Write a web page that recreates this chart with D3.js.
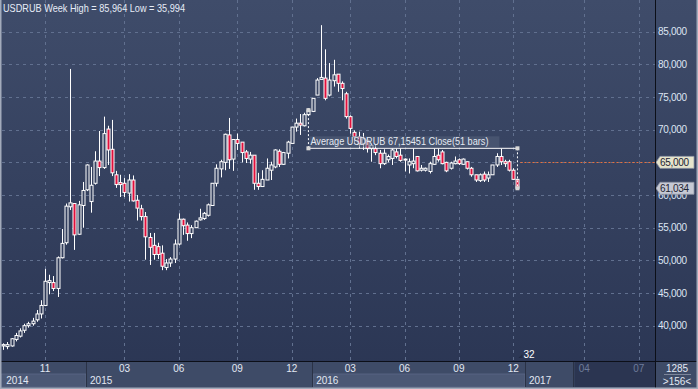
<!DOCTYPE html>
<html><head><meta charset="utf-8">
<script src="https://cdn.jsdelivr.net/npm/d3@7"></script>
<style>html,body{margin:0;padding:0;background:#2b3654;}svg{display:block;font-family:Arial,"Liberation Sans",sans-serif;}</style>
</head><body>
<svg id="c" width="698" height="389"></svg>
<script>
// ---------------- DATA ----------------
const title = "USDRUB Week High = 85,964 Low = 35,994";
const open  = [36.9,36.8,36.9,37.9,38.4,39.3,40.0,40.3,40.9,41.8,43.1,46.6,46.6,45.7,50.4,52.7,58.2,58.7,54.0,58.4,60.8,59.0,61.8,65.2,64.2,70.1,67.0,63.1,61.9,61.8,60.3,62.3,59.2,57.9,56.7,53.5,52.3,52.1,51.1,48.9,49.6,50.2,52.5,56.3,55.4,54.1,55.0,56.2,56.4,56.9,58.4,61.8,64.0,65.0,69.2,65.5,68.5,68.1,66.6,65.5,66.1,61.8,61.3,62.3,63.8,64.3,66.7,64.7,66.4,67.9,70.4,71.0,70.6,72.3,72.8,75.3,77.7,77.9,75.3,77.5,78.5,77.1,75.5,72.0,69.6,68.9,67.9,68.4,67.1,67.1,66.4,64.8,65.4,65.6,66.6,66.1,65.5,64.6,64.8,65.9,63.8,63.8,63.6,64.7,66.1,66.6,65.0,64.1,64.8,65.4,64.7,65.1,64.1,63.1,62.2,63.2,62.6,63.1,64.6,65.9,65.1,65.1,63.8,62.4];
const high  = [37.3,37.5,38.1,38.9,39.6,40.3,40.6,41.2,42.4,43.9,48.7,47.8,47.6,50.6,54.8,58.7,79.3,58.7,59.1,62.0,64.7,64.3,66.7,69.8,72.0,70.6,71.5,63.7,63.1,62.6,63.2,63.0,60.0,58.5,57.4,54.2,54.2,52.7,52.3,50.2,50.5,53.2,57.2,56.4,55.8,55.4,56.1,57.9,57.4,58.7,61.8,64.7,65.4,69.4,71.8,68.5,69.4,68.1,66.9,66.6,66.1,63.4,63.8,65.6,65.1,67.0,67.0,66.6,68.3,70.4,71.7,72.4,72.6,73.3,74.8,77.9,86.0,82.3,80.2,80.7,78.5,77.4,75.8,72.2,69.9,69.7,69.5,68.8,67.9,67.7,66.9,67.0,66.2,67.1,67.1,67.1,65.6,65.6,67.1,65.9,64.6,64.2,65.1,67.1,67.1,66.9,65.1,65.1,65.9,65.6,65.6,65.1,64.3,63.1,63.3,63.6,63.6,64.6,66.4,67.1,65.4,65.4,64.1,62.5];
const low   = [36.3,36.4,36.8,37.6,38.2,38.9,39.7,40.0,40.6,41.1,43.0,44.8,45.3,44.4,50.3,52.4,57.7,51.6,53.9,55.0,60.6,57.3,61.6,62.9,64.0,64.6,62.9,61.1,59.7,59.7,59.0,59.0,56.1,56.1,50.1,49.3,50.1,50.2,48.5,48.5,49.0,49.6,52.3,53.9,53.0,53.4,55.0,56.1,56.2,56.7,58.4,61.3,62.7,63.8,64.0,63.7,66.9,65.0,64.9,64.8,60.8,60.8,61.3,62.3,62.3,64.1,64.3,64.6,65.6,67.9,69.7,69.2,70.5,72.2,72.7,75.3,77.7,74.5,75.1,76.6,75.8,74.5,71.7,69.4,67.9,67.1,66.9,66.5,65.1,66.1,64.1,64.6,65.0,64.6,65.6,65.1,63.6,63.3,64.1,63.6,63.6,63.6,63.3,64.6,65.1,64.7,63.5,63.9,64.7,64.6,64.6,63.9,62.8,62.0,62.0,62.0,62.0,63.1,64.3,64.6,64.3,63.6,62.3,61.0];
const close = [37.1,37.1,38.0,38.5,39.2,40.0,40.3,40.7,41.8,43.1,46.8,46.9,45.7,50.4,52.6,58.3,58.8,53.9,58.5,60.7,64.6,61.5,65.2,64.2,69.4,66.9,63.4,61.6,61.6,60.4,62.3,59.1,58.0,56.7,53.6,52.0,50.9,50.9,49.1,49.6,50.2,52.5,56.3,55.3,54.1,55.0,56.0,56.5,57.2,58.5,61.8,64.1,65.1,69.3,65.4,68.5,67.9,66.5,65.6,66.1,61.8,61.3,62.4,64.1,64.6,66.9,64.7,66.5,68.1,70.4,71.0,70.7,72.3,73.0,74.8,77.6,78.0,74.8,77.6,78.4,77.1,76.3,72.0,70.2,68.9,67.9,68.6,67.1,67.6,66.5,64.8,66.4,65.9,66.9,65.9,65.3,65.4,65.1,65.2,63.7,64.1,64.1,64.8,65.9,65.4,64.8,63.7,64.9,65.2,64.8,65.5,64.1,63.1,62.3,63.1,62.3,63.1,64.6,65.9,65.1,64.8,63.8,62.4,61.034];
const yTicks = [40000,45000,50000,55000,60000,65000,70000,75000,80000,85000];
const monthLabels = ["11","03","06","09","12","03","06","09","12","04","07"];
const monthBars   = [10,29,42,56,69,83,96,109,122,139,152];
const yearLabels  = ["2014","2015","2016","2017"];
const yearStartBars = [-0.7,19.8,73.9,124.8];
const yearEndBars   = [19.8,73.9,124.8,136.4];
const futureBars = 32;
const avgFrom = 73, avgBars = 51;
const avgLabel = "Average USDRUB 67,15451 Close(51 bars)";
const avgValue = 67151.5;
const alertLevel = 65000;
const barCountLabel = "1285", visibleLabel = ">156<";

// --------------- CHART ----------------
const W = 698, H = 389;
const plotL = 2, plotR = 655, plotT = 0, plotB = 361;
const svg = d3.select("#c");
const defs = svg.append("defs");
const g1 = defs.append("linearGradient").attr("id","bg").attr("gradientUnits","userSpaceOnUse")
  .attr("x1",0).attr("y1",0).attr("x2",0).attr("y2",389);
g1.append("stop").attr("offset","0%").attr("stop-color","#3f4c6a");
g1.append("stop").attr("offset","100%").attr("stop-color","#2a3553");

svg.append("rect").attr("width",W).attr("height",H).attr("fill","url(#bg)");

const N = close.length;
const x = d3.scaleLinear().domain([-0.3, N - 1 + futureBars + 0.9]).range([plotL, plotR]);
const y = d3.scaleLinear().domain([40000, 85000]).range([325.7, 31.7]);
const v = d => d * 1000;

// grid
const grid = svg.append("g").attr("stroke","#61708f").attr("stroke-dasharray","3,4").attr("stroke-width",1);
grid.selectAll("line.h").data(yTicks).join("line")
  .attr("x1",plotL).attr("x2",plotR).attr("y1",d=>Math.round(y(d))+0.5).attr("y2",d=>Math.round(y(d))+0.5);
grid.selectAll("line.v").data(monthBars).join("line")
  .attr("x1",d=>Math.round(x(d))+0.5).attr("x2",d=>Math.round(x(d))+0.5).attr("y1",plotT).attr("y2",plotB);

// title
svg.append("text").attr("x",3).attr("y",12).attr("fill","#e6ecf7").attr("font-size","10.5px")
  .attr("textLength",182).attr("lengthAdjust","spacingAndGlyphs").text(title);

// candles
const bw = 3;
const cg = svg.append("g");
const idx = d3.range(N);
cg.selectAll("line.w").data(idx).join("line")
  .attr("x1",i=>Math.round(x(i))+0.5).attr("x2",i=>Math.round(x(i))+0.5)
  .attr("y1",i=>y(v(high[i]))).attr("y2",i=>y(v(low[i])))
  .attr("stroke","#ffffff").attr("stroke-width",1);
cg.selectAll("rect.b").data(idx).join("rect")
  .attr("x",i=>Math.round(x(i))+0.5-bw/2)
  .attr("y",i=>y(v(Math.max(open[i],close[i]))))
  .attr("width",bw)
  .attr("height",i=>Math.max(1,Math.abs(y(v(open[i]))-y(v(close[i])))))
  .attr("fill",i=>close[i] < open[i] ? "#e0103c" : "url(#bg)")
  .attr("stroke","#ffffff").attr("stroke-width",1);

// alert line
svg.append("line").attr("x1",x(N-1)+3).attr("x2",plotR).attr("y1",Math.round(y(alertLevel))+0.5).attr("y2",Math.round(y(alertLevel))+0.5)
  .attr("stroke","#e8703c").attr("stroke-dasharray","2,2");

// average annotation
const ax1 = x(avgFrom), ax2 = x(avgFrom + avgBars - 1);
const ay = y(avgValue);
const ann = svg.append("g");
ann.append("rect").attr("x",ax1+1).attr("y",ay-12).attr("width",190).attr("height",11).attr("fill","#56627c").attr("opacity",0.55);
ann.append("text").attr("x",ax1+2).attr("y",ay-3).attr("fill","#e4e9f2").attr("font-size","10px")
  .attr("textLength",178).attr("lengthAdjust","spacingAndGlyphs").text(avgLabel);
ann.append("line").attr("x1",ax1).attr("x2",ax2).attr("y1",ay).attr("y2",ay).attr("stroke","#ffffff").attr("stroke-width",1);
ann.append("line").attr("x1",ax1).attr("x2",ax1).attr("y1",y(v(close[avgFrom]))).attr("y2",ay).attr("stroke","#ffffff").attr("stroke-dasharray","2,2");
ann.append("line").attr("x1",ax2).attr("x2",ax2).attr("y1",ay).attr("y2",y(v(close[N-1]))).attr("stroke","#ffffff").attr("stroke-dasharray","2,2");
[[ax1,y(v(close[avgFrom]))],[ax1,ay],[ax2,ay],[ax2,y(v(close[N-1]))]].forEach(p=>{
  ann.append("rect").attr("x",p[0]-2).attr("y",p[1]-2).attr("width",4).attr("height",4).attr("fill","#d8d8d8");
});

// "32" future bars label
svg.append("path").attr("d",`M${x(N-1)+1},${plotB-3} l4,-4 l0,4 z`).attr("fill","#222c44");
svg.append("text").attr("x",x(N-1)+6).attr("y",plotB-3).attr("fill","#ffffff").attr("font-size","10px").text(futureBars);

// right axis labels (the 65,000 level is shown by its price tag)
svg.append("g").selectAll("text").data(yTicks.filter(d => d !== alertLevel)).join("text")
  .attr("x",658).attr("y",d=>y(d)+3.5).attr("fill","#dde5f3").attr("font-size","10px").attr("letter-spacing","-0.3px")
  .text(d=>d3.format(",")(d));

function priceTag(val, fill, label){
  const yy = y(val);
  const gg = svg.append("g");
  gg.append("path").attr("d",`M656,${yy} L660,${yy-6} L694,${yy-6} L694,${yy+6} L660,${yy+6} Z`)
    .attr("fill",fill).attr("stroke","#8d93a3").attr("stroke-width",0.8);
  gg.append("text").attr("x",660).attr("y",yy+3.5).attr("fill","#1c2333").attr("font-size","10px").attr("letter-spacing","-0.3px").text(label);
}
priceTag(alertLevel,"#e6e4cc",d3.format(",")(alertLevel));
priceTag(close[N-1]*1000,"#c6c9d4",d3.format(",")(Math.round(close[N-1]*1000)));

// bottom axis
const ax = svg.append("g");
ax.append("rect").attr("x",0).attr("y",362).attr("width",W).attr("height",27).attr("fill","#3e4b67");
ax.selectAll("rect.yr").data(yearLabels).join("rect")
  .attr("x",(d,i)=>x(yearStartBars[i])+1).attr("y",(d,i)=> i===3 ? 362 : 374)
  .attr("width",(d,i)=>x(yearEndBars[i])-x(yearStartBars[i])-1)
  .attr("height",(d,i)=> i===3 ? 25 : 13)
  .attr("fill",(d,i)=> i%2===0 ? "#4b5875" : "#3e4b67")
  .attr("stroke",(d,i)=> i%2===0 ? "#5b6887" : "none").attr("stroke-width",0.8);
ax.append("rect").attr("x",x(yearEndBars[3])+1).attr("y",362).attr("width",plotR-x(yearEndBars[3])-1).attr("height",25).attr("fill","#2b3551");
ax.selectAll("line.sep").data(yearEndBars).join("line")
  .attr("x1",d=>Math.round(x(d))+0.5).attr("x2",d=>Math.round(x(d))+0.5).attr("y1",362).attr("y2",387)
  .attr("stroke","#2a3246").attr("stroke-width",1);
ax.selectAll("text.m").data(monthLabels).join("text")
  .attr("x",(d,i)=>x(monthBars[i])).attr("y",372).attr("text-anchor","middle").attr("font-size","10px")
  .attr("fill",(d,i)=> monthBars[i] > yearEndBars[3] ? "#6e7c9a" : "#e2e8f3").text(d=>d);
ax.selectAll("text.y").data(yearLabels).join("text")
  .attr("x",(d,i)=>x(yearStartBars[i])+ (i===0?6:4)).attr("y",384).attr("font-size","10px")
  .attr("fill","#e2e8f3").text(d=>d);

svg.append("rect").attr("x",656).attr("y",362).attr("width",42).attr("height",25).attr("fill","#3e4b67");
svg.append("text").attr("x",677).attr("y",372).attr("text-anchor","middle").attr("fill","#e2e8f3").attr("font-size","10px").text(barCountLabel);
svg.append("line").attr("x1",664).attr("x2",691).attr("y1",374.5).attr("y2",374.5).attr("stroke","#7c859a");
svg.append("text").attr("x",677).attr("y",385).attr("text-anchor","middle").attr("fill","#e2e8f3").attr("font-size","10px").text(visibleLabel);

svg.append("line").attr("x1",655.5).attr("x2",655.5).attr("y1",0).attr("y2",389).attr("stroke","#0c0f18");
svg.append("line").attr("x1",0).attr("x2",W).attr("y1",361.5).attr("y2",361.5).attr("stroke","#0c0f18");
svg.append("path").attr("d",`M0.75,0 V388.25 H697.25 V0`).attr("fill","none").attr("stroke","#a3abbb").attr("stroke-width",1.5);
</script>
</body></html>
